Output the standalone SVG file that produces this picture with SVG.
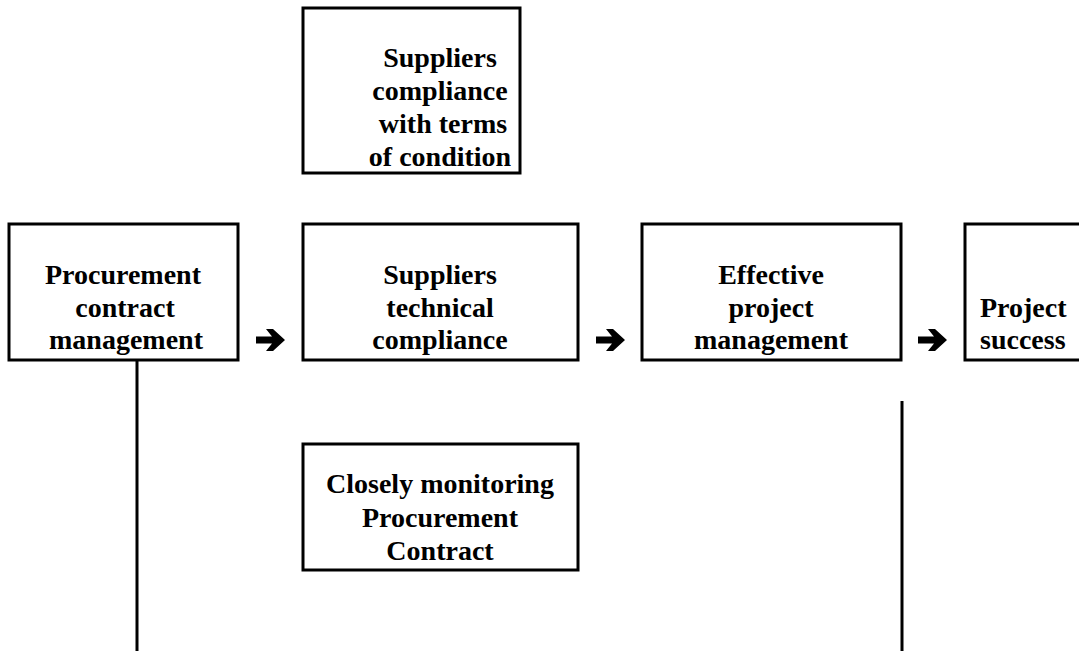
<svg xmlns="http://www.w3.org/2000/svg" width="1079" height="651" viewBox="0 0 1079 651">
<style>
.box{fill:#fff;stroke:#000;stroke-width:3}
.t{font-family:"Liberation Serif","Times New Roman",serif;font-weight:bold;font-size:28px;fill:#000;text-anchor:middle}
.tl{font-family:"Liberation Serif","Times New Roman",serif;font-weight:bold;font-size:28px;fill:#000}
.ln{stroke:#000;stroke-width:3;fill:none}
</style>
<defs>
<path id="arr" d="M0,-3.5 L16,-3.5 L10,-11 L17,-11 L29,0 L17,11 L10,11 L16,3.5 L0,3.5 Z" fill="#000"/>
</defs>
<rect width="1079" height="651" fill="#fff"/>
<g id="connectors">
<line class="ln" x1="137" y1="360" x2="137" y2="651"/>
<line class="ln" x1="902" y1="401" x2="902" y2="651"/>
<use href="#arr" x="256" y="340"/>
<use href="#arr" x="596" y="340"/>
<use href="#arr" x="918" y="340"/>
</g>
<g id="terms">
<rect class="box" x="303" y="8" width="217" height="165"/>
<text class="t" x="440" y="67">Suppliers</text>
<text class="t" x="440" y="100">compliance</text>
<text class="t" x="443" y="133">with terms</text>
<text class="t" x="440" y="166">of condition</text>
</g>
<g id="procurement">
<rect class="box" x="9" y="224" width="229" height="136"/>
<text class="t" x="123" y="284">Procurement</text>
<text class="t" x="125" y="317">contract</text>
<text class="t" x="126" y="349">management</text>
</g>
<g id="technical">
<rect class="box" x="303" y="224" width="275" height="136"/>
<text class="t" x="440" y="284">Suppliers</text>
<text class="t" x="440" y="317">technical</text>
<text class="t" x="440" y="349">compliance</text>
</g>
<g id="effective">
<rect class="box" x="642" y="224" width="259" height="136"/>
<text class="t" x="771" y="284">Effective</text>
<text class="t" x="771" y="317">project</text>
<text class="t" x="771" y="349">management</text>
</g>
<g id="success">
<rect class="box" x="965" y="224" width="130" height="136"/>
<text class="tl" x="980" y="317">Project</text>
<text class="tl" x="980" y="349">success</text>
</g>
<g id="monitoring">
<rect class="box" x="303" y="444" width="275" height="126"/>
<text class="t" x="440" y="493">Closely monitoring</text>
<text class="t" x="440" y="527">Procurement</text>
<text class="t" x="440" y="560">Contract</text>
</g>
</svg>
